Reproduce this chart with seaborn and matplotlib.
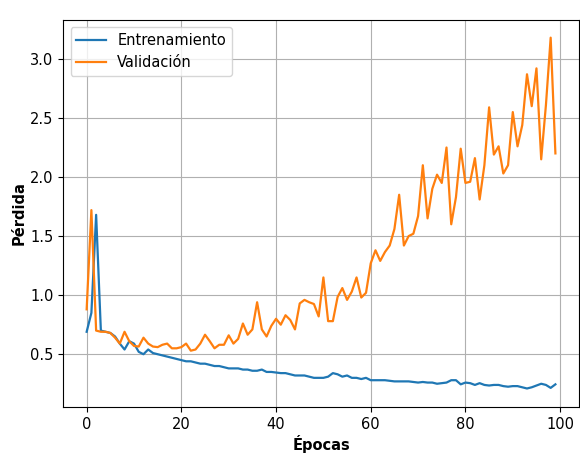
import numpy as np
import pandas as pd
import matplotlib
matplotlib.use("Agg")
import matplotlib.pyplot as plt
import seaborn as sns

epochs = list(range(100))

train_loss = [
    0.69, 0.85, 1.68, 0.70, 0.69, 0.68, 0.65, 0.59, 0.54, 0.61,
    0.59, 0.52, 0.50, 0.54, 0.51, 0.50, 0.49, 0.48, 0.47, 0.46,
    0.45, 0.44, 0.44, 0.43, 0.42, 0.42, 0.41, 0.40, 0.40, 0.39,
    0.38, 0.38, 0.38, 0.37, 0.37, 0.36, 0.36, 0.37, 0.35, 0.35,
    0.345, 0.34, 0.34, 0.33, 0.32, 0.32, 0.32, 0.31, 0.30, 0.30,
    0.30, 0.31, 0.34, 0.33, 0.31, 0.32, 0.30, 0.30, 0.29, 0.30,
    0.28, 0.28, 0.28, 0.28, 0.275, 0.27, 0.27, 0.27, 0.27, 0.265,
    0.26, 0.265, 0.26, 0.26, 0.25, 0.255, 0.26, 0.28, 0.28, 0.245,
    0.26, 0.255, 0.24, 0.255, 0.24, 0.235, 0.24, 0.24, 0.23, 0.225,
    0.23, 0.23, 0.22, 0.21, 0.22, 0.235, 0.25, 0.24, 0.215, 0.245,
]

val_loss = [
    0.88, 1.72, 0.70, 0.69, 0.69, 0.68, 0.64, 0.59, 0.69, 0.61,
    0.57, 0.565, 0.64, 0.59, 0.565, 0.56, 0.58, 0.59, 0.55, 0.55,
    0.56, 0.59, 0.53, 0.54, 0.59, 0.665, 0.61, 0.55, 0.58, 0.58,
    0.66, 0.59, 0.63, 0.76, 0.665, 0.71, 0.94, 0.71, 0.65, 0.74,
    0.80, 0.75, 0.83, 0.79, 0.71, 0.93, 0.96, 0.94, 0.925, 0.82,
    1.15, 0.78, 0.78, 0.985, 1.06, 0.96, 1.03, 1.15, 0.98, 1.02,
    1.27, 1.38, 1.29, 1.365, 1.42, 1.56, 1.85, 1.42, 1.50, 1.52,
    1.67, 2.10, 1.65, 1.90, 2.02, 1.95, 2.25, 1.60, 1.83, 2.24,
    1.95, 1.96, 2.16, 1.81, 2.10, 2.59, 2.19, 2.26, 2.03, 2.10,
    2.55, 2.26, 2.44, 2.87, 2.60, 2.92, 2.15, 2.61, 3.18, 2.20,
]

series_names = ["Entrenamiento", "Validación"]

df = pd.DataFrame({
    "epoch": epochs * 2,
    "loss": train_loss + val_loss,
    "serie": [series_names[0]] * len(epochs) + [series_names[1]] * len(epochs),
})

plt.rcParams["font.size"] = 10.5

fig = plt.figure(figsize=(5.8, 4.53), dpi=100)
ax = fig.add_axes([0.109, 0.1015, 0.889, 0.8545])

sns.lineplot(data=df, x="epoch", y="loss", hue="serie",
             palette=["#1f77b4", "#ff7f0e"], linewidth=1.6, ax=ax)

ax.grid(True, color="#b0b0b0", linewidth=0.8)
ax.set_axisbelow(True)
ax.set_xlabel("Épocas", fontsize=10.5, fontweight="bold", labelpad=2.5)
ax.set_ylabel("Pérdida", fontsize=10.5, fontweight="bold", labelpad=2.5)
ax.set_xticks([0, 20, 40, 60, 80, 100])
ax.set_yticks([0.5, 1.0, 1.5, 2.0, 2.5, 3.0])
ax.tick_params(labelsize=10.5)
ax.set_xlim(-4.95, 103.95)
ax.set_ylim(0.053, 3.33)
ax.legend(loc="upper left", title=None, fontsize=10.5)

fig.savefig("out.png", dpi=100)
